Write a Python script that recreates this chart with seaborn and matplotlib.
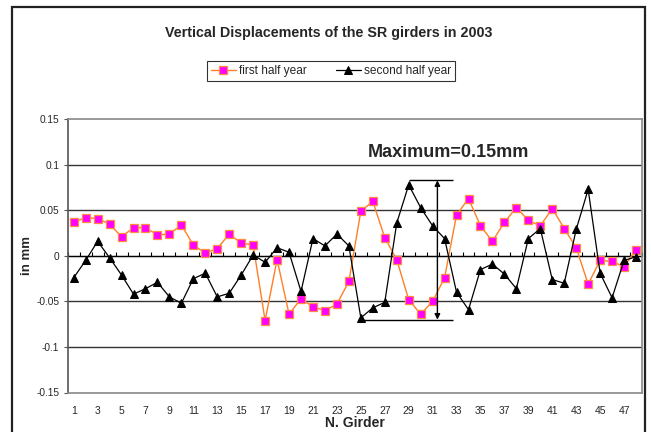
import matplotlib.pyplot as plt
import matplotlib.patches as mpatches
import pandas as pd
import seaborn as sns
import numpy as np

# Data (vertical displacement in mm per girder)
girders = list(range(1, 49))
first_half = [0.037, 0.042, 0.041, 0.035, 0.021, 0.031, 0.031, 0.023, 0.024, 0.034,
              0.012, 0.003, 0.008, 0.024, 0.014, 0.012, -0.071, -0.004, -0.064, -0.047,
              -0.056, -0.060, -0.053, -0.028, 0.049, 0.060, 0.020, -0.004, -0.048, -0.064,
              -0.050, -0.024, 0.045, 0.063, 0.033, 0.016, 0.037, 0.053, 0.039, 0.033,
              0.052, 0.030, 0.009, -0.031, -0.005, -0.006, -0.012, 0.007]
second_half = [-0.024, -0.005, 0.016, -0.002, -0.021, -0.042, -0.036, -0.029, -0.045, -0.052,
               -0.025, -0.019, -0.045, -0.041, -0.021, 0.001, -0.007, 0.009, 0.004, -0.039,
               0.019, 0.011, 0.024, 0.011, -0.068, -0.057, -0.051, 0.036, 0.078, 0.053,
               0.033, 0.019, -0.040, -0.059, -0.015, -0.009, -0.020, -0.036, 0.019, 0.030,
               -0.026, -0.030, 0.029, 0.073, -0.019, -0.046, -0.005, -0.001]
y_ticks = [-0.15, -0.1, -0.05, 0, 0.05, 0.1, 0.15]
y_tick_labels = ['-0.15', '-0.1', '-0.05', '0', '0.05', '0.1', '0.15']
x_tick_labels = [str(g) for g in range(1, 49, 2)]

df = pd.DataFrame({'girder': girders, 'first': first_half, 'second': second_half})

sns.set_style('white')
narrow = ['Liberation Sans Narrow', 'Liberation Sans', 'DejaVu Sans']
wide = ['Liberation Sans', 'DejaVu Sans']
plt.rcParams['font.family'] = narrow

fig = plt.figure(figsize=(6.51, 4.32), dpi=100)
ax = fig.add_axes([67.7 / 651, 1 - 392.5 / 432, (642 - 67.7) / 651, (392.5 - 119.3) / 432])

# outer chart frame
fig.patches.append(mpatches.Rectangle((12 / 651, -0.05), (645 - 12) / 651, 1 - 7 / 432 + 0.05,
                                      transform=fig.transFigure, fill=False,
                                      edgecolor='#222222', linewidth=1.6))

for y in [-0.1, -0.05, 0.05, 0.1]:
    ax.axhline(y, color='#333333', linewidth=1.0, zorder=1)
ax.axhline(0, color='black', linewidth=1.0, zorder=1)

sns.lineplot(data=df, x='girder', y='first', ax=ax, color='#FF7F27', linewidth=1.0,
             marker='s', markersize=5.5, markerfacecolor='#FF00FF',
             markeredgecolor='#FF8C40', markeredgewidth=0.9, label='first half year', zorder=3)
sns.lineplot(data=df, x='girder', y='second', ax=ax, color='black', linewidth=0.9,
             marker='^', markersize=6.3, markerfacecolor='black',
             markeredgecolor='black', label='second half year', zorder=3)

ax.set_xlim(0.5, 48.5)
ax.set_ylim(-0.15, 0.15)
ax.set_yticks(y_ticks)
ax.set_yticklabels(y_tick_labels, fontsize=7.3)
ax.set_xticks(range(1, 49, 2))
ax.set_xticklabels(x_tick_labels, fontsize=7.5)
ax.tick_params(axis='x', length=0, pad=10)
ax.tick_params(axis='y', length=3, width=0.8, direction='out', color='#555555', pad=3, left=True)
for s in ax.spines.values():
    s.set_color('#888888')
    s.set_linewidth(1.2)
ax.spines['left'].set_color('#555555')

# category tick marks on the zero line
zax = ax.secondary_xaxis(0.5)
zax.set_xticks(np.arange(0.5, 49, 1))
zax.set_xticklabels([])
zax.tick_params(length=3, width=0.8, color='black', direction='out')
zax.spines['bottom'].set_visible(False)

ax.set_xlabel('N. Girder', fontsize=10, fontweight='bold')
ax.xaxis.set_label_coords(0.5, (392.5 - 423) / 273.2)
ax.xaxis.label.set_va('center')
ax.set_ylabel('in mm', fontsize=9.5, fontweight='bold', family=wide)
ax.yaxis.set_label_coords((27 - 67.7) / 574.3, 0.5)
ax.yaxis.label.set_va('center')

# maximum span annotation
ax.hlines(0.083, 29.0, 32.7, color='black', linewidth=1.0)
ax.hlines(-0.070, 25.0, 32.7, color='black', linewidth=1.0)
ax.annotate('', xy=(31.4, 0.083), xytext=(31.4, -0.070),
            arrowprops=dict(arrowstyle='<|-|>', color='black', lw=1.0,
                            shrinkA=0, shrinkB=0, mutation_scale=8))
ax.text(25.6, 0.114, 'Maximum=0.15mm', fontsize=13, fontweight='bold', va='center', ha='left')

fig.text(0.505, 1 - 33 / 432, 'Vertical Displacements of the SR girders in 2003',
         fontsize=10.3, fontweight='bold', ha='center', va='center')

leg = ax.legend(loc='center', bbox_to_anchor=(331 / 651, 1 - 71 / 432),
                bbox_transform=fig.transFigure, ncol=2, frameon=True,
                prop={'family': wide, 'size': 8.6},
                fancybox=False, handlelength=2.1, handletextpad=0.3, columnspacing=2.4,
                borderpad=0.3, borderaxespad=0)
leg.get_frame().set_edgecolor('black')
leg.get_frame().set_linewidth(0.8)

fig.savefig('out.png', dpi=100)
